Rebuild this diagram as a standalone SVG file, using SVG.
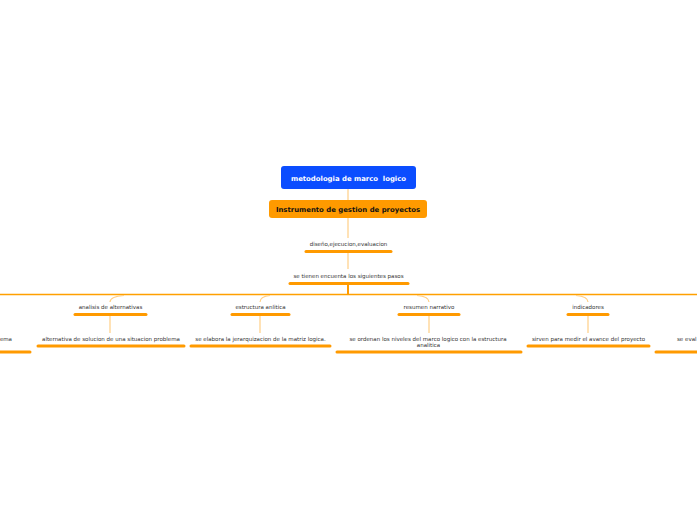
<svg xmlns="http://www.w3.org/2000/svg" width="697" height="520" viewBox="0 0 697 520">
<style>
.t{font-family:"DejaVu Sans",Verdana,sans-serif;font-size:5.5px;fill:#333;text-anchor:middle}
.b{font-family:"DejaVu Sans",Verdana,sans-serif;font-size:6.9px;font-weight:bold;text-anchor:middle;white-space:pre}
.u{stroke:#ff9a00;stroke-width:3;stroke-linecap:round;fill:none}
.c{stroke:#ffcf85;stroke-width:1.2;fill:none}
.m{stroke:#ffa000;stroke-width:1.5;fill:none}
</style>
<rect width="697" height="520" fill="#fff"/>
<g id="connectors">
<line class="c" x1="348" y1="189" x2="348" y2="200"/>
<line class="c" x1="348" y1="218" x2="348" y2="238"/>
<line class="c" x1="348" y1="252" x2="348" y2="269"/>
<line x1="348" y1="284" x2="348" y2="294" stroke="#ff9a00" stroke-width="2"/>
<line class="m" x1="0" y1="294.5" x2="697" y2="294.5"/>
<path class="c" d="M110 302 Q110 296.5 124 295.5"/>
<path class="c" d="M260 302 Q260 296.5 270 295.5"/>
<path class="c" d="M429 302 Q429 296.5 417 295.5"/>
<path class="c" d="M588 302 Q588 296.5 576 295.5"/>
<line class="c" x1="110" y1="316" x2="110" y2="333"/>
<line class="c" x1="260" y1="316" x2="260" y2="333"/>
<line class="c" x1="429" y1="316" x2="429" y2="333"/>
<line class="c" x1="588" y1="316" x2="588" y2="333"/>
</g>
<g id="root">
<rect x="281" y="166" width="135" height="23" rx="3" fill="#0b4dff"/>
<text class="b" x="348.5" y="180.5" fill="#fff" xml:space="preserve">metodologia de marco  logico</text>
</g>
<g id="instrumento">
<rect x="269" y="200" width="158" height="18" rx="3" fill="#ff9a00"/>
<text class="b" x="348" y="211.5" fill="#111">Instrumento de gestion de proyectos</text>
</g>
<g id="diseno">
<text class="t" x="348.5" y="246">diseño,ejecucion,evaluacion</text>
<line class="u" x1="306" y1="251.5" x2="391" y2="251.5"/>
</g>
<g id="pasos">
<text class="t" x="348.5" y="278">se tienen encuenta los siguientes pasos</text>
<line class="u" x1="290" y1="283.5" x2="408" y2="283.5"/>
</g>
<g id="left-partial">
<text class="t" x="12" y="341" style="text-anchor:end">ema</text>
<line class="u" x1="-2" y1="352" x2="30" y2="352"/>
</g>
<g id="analisis">
<text class="t" x="110.5" y="309">analisis de alternativas</text>
<line class="u" x1="75" y1="314.5" x2="146" y2="314.5"/>
</g>
<g id="alternativa">
<text class="t" x="111" y="341">alternativa de solucion de una situacion problema</text>
<line class="u" x1="38" y1="346" x2="184" y2="346"/>
</g>
<g id="estructura">
<text class="t" x="260.5" y="309">estructura anlitica</text>
<line class="u" x1="232" y1="314.5" x2="289" y2="314.5"/>
</g>
<g id="jerarquizacion">
<text class="t" x="260.5" y="341">se elabora la jerarquizacion de la matriz logica.</text>
<line class="u" x1="191" y1="346" x2="330" y2="346"/>
</g>
<g id="resumen">
<text class="t" x="429" y="309">resumen narrativo</text>
<line class="u" x1="399" y1="314.5" x2="459" y2="314.5"/>
</g>
<g id="ordenan">
<text class="t" x="428" y="341">se ordenan los niveles del marco logico con la estructura</text>
<text class="t" x="428.5" y="347">analitica</text>
<line class="u" x1="337" y1="352" x2="521" y2="352"/>
</g>
<g id="indicadores">
<text class="t" x="588" y="309">indicadores</text>
<line class="u" x1="568" y1="314.5" x2="608" y2="314.5"/>
</g>
<g id="sirven">
<text class="t" x="588.5" y="341">sirven para medir el avance del proyecto</text>
<line class="u" x1="528" y1="346" x2="649" y2="346"/>
</g>
<g id="right-partial">
<text class="t" x="677" y="341" style="text-anchor:start">se eval</text>
<line class="u" x1="656" y1="352" x2="699" y2="352"/>
</g>
</svg>
